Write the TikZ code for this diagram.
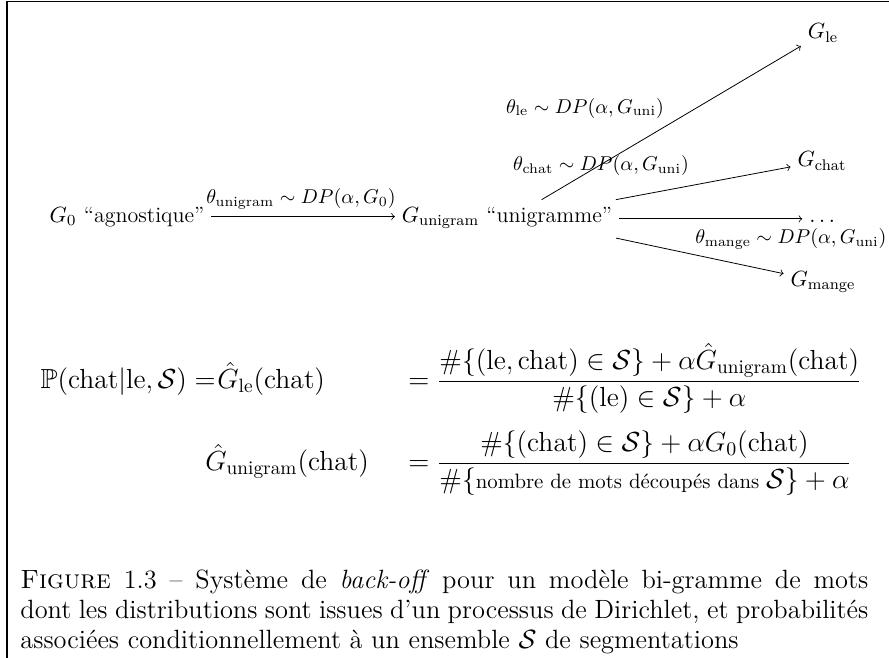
\RequirePackage{fix-cm}
\documentclass[tikz,border=0pt]{standalone}
\usepackage{amsmath,amssymb}
\usepackage{fontspec}

\begin{document}
\begin{tikzpicture}[x=0.5pt,y=-0.5pt,
  dist/.style={font=\fontsize{11}{13}\selectfont},
  lbl/.style={inner sep=0pt,font=\fontsize{10}{12}\selectfont},
  eq/.style={inner sep=0pt,font=\fontsize{13.8}{16}\selectfont},
  arr/.style={->}
]
\useasboundingbox (0,0) rectangle (889,658);
\draw[line width=0.9pt] (7,658) -- (7,1.5) -- (889,1.5);
% distributions
\node[dist,anchor=base] (g0) at (127,222) {$G_0$ ``agnostique''};
\node[dist,anchor=base,text depth=4.5pt] (guni) at (507,222) {$G_{\text{unigram}}$ ``unigramme''};
\node[dist] (gle) at (823,33) {$G_{\text{le}}$};
\node[dist] (gchat) at (822,161) {$G_{\text{chat}}$};
\node[dist,anchor=base] (dots) at (824,222) {$\dots$};
\node[dist] (gmange) at (823,282) {$G_{\text{mange}}$};
\draw[arr] (g0.east) -- (g0.east -| guni.west);
\draw[arr] (guni.29) -- (gle);
\draw[arr] (guni.10.8) -- (gchat);
\draw[arr] (guni.east) -- (guni.east -| dots.west);
\draw[arr] (guni.-10.8) -- (gmange);
% tirages
\node[lbl,anchor=base] (tuni) at (301,204) {$\theta_{\text{unigram}} \sim DP(\alpha, G_0)$};
\node[lbl] (tle) at (585,108) {$\theta_{\text{le}} \sim DP(\alpha, G_{\text{uni}})$};
\node[lbl] (tchat) at (601,165) {$\theta_{\text{chat}} \sim DP(\alpha, G_{\text{uni}})$};
\node[lbl] (tmange) at (791,239) {$\theta_{\text{mange}} \sim DP(\alpha, G_{\text{uni}})$};
% probabilites
\node[eq,anchor=base east] (plhs) at (216,388) {$\mathbb{P}(\text{chat}|\text{le},\mathcal{S}) =$};
\node[eq,anchor=base west] (hgle) at (217,388) {$\hat{G}_{\text{le}}(\text{chat})$};
\node[eq,anchor=base west] (frle) at (408,388) {$= \dfrac{\#\{(\text{le},\text{chat})\in\mathcal{S}\}+\alpha\hat{G}_{\text{unigram}}(\text{chat})}{\#\{(\text{le})\in\mathcal{S}\}+\alpha}$};
\node[eq,anchor=base west] (hguni) at (205,470) {$\hat{G}_{\text{unigram}}(\text{chat})$};
\node[eq,anchor=base west] (fruni) at (408,470) {$= \dfrac{\#\{(\text{chat})\in\mathcal{S}\}+\alpha G_0(\text{chat})}{\#\{\text{\fontsize{10.4}{12}\selectfont nombre de mots découpés dans }\mathcal{S}\}+\alpha}$};
% legende
\node[anchor=north west,inner sep=0pt,text width=424pt,align=justify,font=\fontsize{13.2}{14.76}\selectfont] (cap) at (20,570) {\textsc{Figure} 1.3 – Système de \emph{back-off} pour un modèle bi-gramme de mots dont les distributions sont issues d’un processus de Dirichlet, et probabilités associées conditionnellement à un ensemble $\mathcal{S}$ de segmentations};
\end{tikzpicture}
\end{document}
